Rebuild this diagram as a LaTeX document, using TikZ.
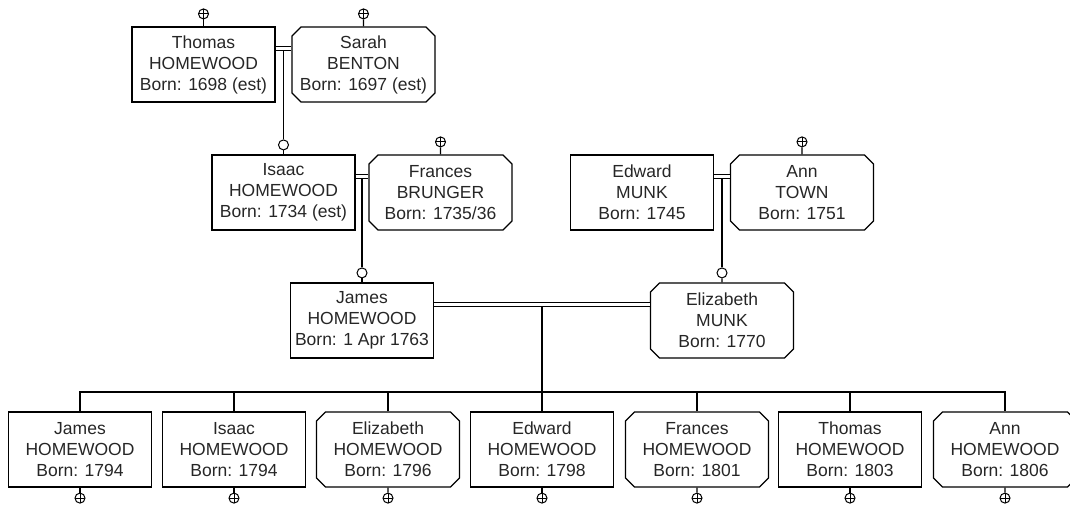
\documentclass[tikz,border=0pt]{standalone}
\usepackage{fontspec}
\setmainfont{Liberation Sans}
\usetikzlibrary{positioning,shapes.misc,calc}
\tikzset{
	person/.style={draw, line width=1.2pt, minimum width=143pt, minimum height=75pt, inner sep=0pt, align=center, text=black!85, font=\fontsize{17.5}{21}\selectfont},
	malebox/.style={person, rectangle},
	femalebox/.style={person, chamfered rectangle, chamfered rectangle xsep=4.5pt, chamfered rectangle ysep=4.5pt},
	deathmark/.style={circle, draw, line width=1pt, minimum size=10pt, inner sep=0pt, path picture={\draw (path picture bounding box.north) -- (path picture bounding box.south) (path picture bounding box.west) -- (path picture bounding box.east);}},
	childmark/.style={circle, draw, line width=1pt, minimum size=10pt, inner sep=0pt},
	wed/.style={double, double distance=2.8pt, line width=1.1pt},
}
\begin{document}
\begin{tikzpicture}[x=1pt, y=-1pt, line width=1.2pt]
		\useasboundingbox (0,0) rectangle (1070,504);
		% ancestors
		\node[malebox] (thomas) at (203.5,64.5) {Thomas\\HOMEWOOD\\Born: 1698 (est)};
		\node[femalebox] (sarah) at (363.5,64.5) {Sarah\\BENTON\\Born: 1697 (est)};
		\node[malebox] (isaac) at (283.5,192.5) {Isaac\\HOMEWOOD\\Born: 1734 (est)};
		\node[femalebox] (frances) at (440.5,192.5) {Frances\\BRUNGER\\Born: 1735/36};
		\node[malebox] (edward) at (642,192.5) {Edward\\MUNK\\Born: 1745};
		\node[femalebox] (ann) at (802,192.5) {Ann\\TOWN\\Born: 1751};
		\node[malebox] (james) at (362,320.5) {James\\HOMEWOOD\\Born: 1 Apr 1763};
		\node[femalebox] (eliz) at (722,320.5) {Elizabeth\\MUNK\\Born: 1770};
		% children
		\foreach \n/\sh/\first/\yr/\x in {1/malebox/James/1794/80, 2/malebox/Isaac/1794/234, 3/femalebox/Elizabeth/1796/388, 4/malebox/Edward/1798/542, 5/femalebox/Frances/1801/697, 6/malebox/Thomas/1803/850, 7/femalebox/Ann/1806/1005}
			\node[\sh] (kid\n) at (\x,449.5) {\first\\HOMEWOOD\\Born: \yr};
		% marks
		\foreach \p in {thomas,sarah,frances,ann} {
			\node[deathmark, above=7pt of \p] (\p d) {};
			\draw (\p d) -- (\p);
		}
		\foreach \p in {isaac,james,eliz} {
			\node[childmark, above=4pt of \p] (\p c) {};
			\draw (\p c) -- (\p);
		}
		\foreach \n in {1,...,7} {
			\node[deathmark, below=5pt of kid\n] (kid\n d) {};
			\draw (kid\n d) -- (kid\n);
		}
		% marriages
		\coordinate (ts) at ($(thomas.east)!.5!(sarah.west)$);
		\coordinate (if) at ($(isaac.east)!.5!(frances.west)$);
		\coordinate (ea) at ($(edward.east)!.5!(ann.west)$);
		\coordinate (je) at ($(james.east)!.5!(eliz.west)$);
		\coordinate (bar) at (0,392);
		\draw ([yshift=16pt]ts) -- (isaacc);
		\draw ([yshift=16pt]if) -- (jamesc);
		\draw ([yshift=16pt]ea) -- (elizc);
		\draw ([yshift=16pt]je) -- (je |- bar);
		\draw[wed] ([yshift=16pt]thomas.east) -- ([yshift=16pt]sarah.west);
		\draw[wed] ([yshift=16pt]isaac.east) -- ([yshift=16pt]frances.west);
		\draw[wed] ([yshift=16pt]edward.east) -- ([yshift=16pt]ann.west);
		\draw[wed] ([yshift=16pt]james.east) -- ([yshift=16pt]eliz.west);
		% sibling bar
		\draw (kid1.north) |- (kid7.north |- bar) -- (kid7.north);
		\foreach \n in {2,...,6}
			\draw (kid\n.north) -- (kid\n.north |- bar);
	\end{tikzpicture}
\end{document}
